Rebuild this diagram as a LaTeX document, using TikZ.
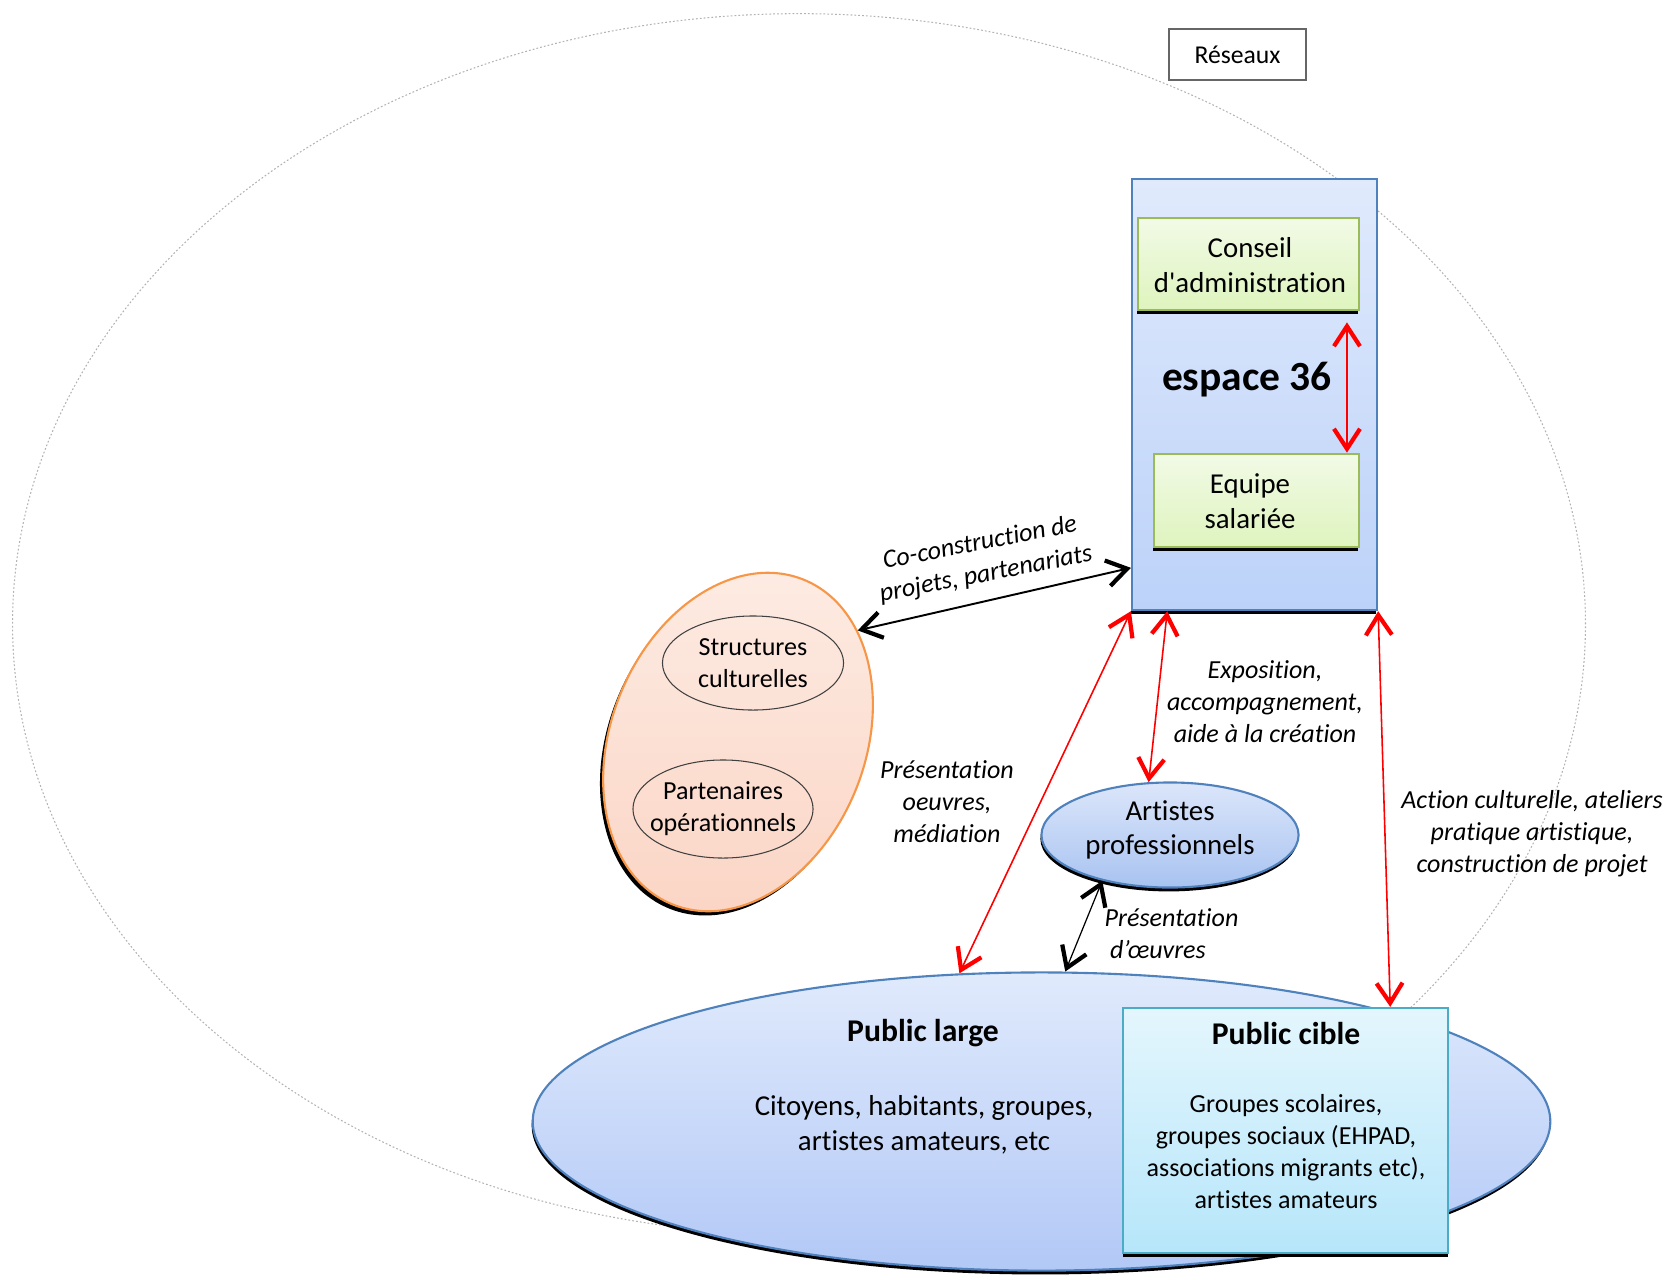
\documentclass[tikz,border=0pt]{standalone}
\usepackage{fontspec}
\setmainfont{Carlito}[Ligatures={TeXOff,CommonOff}]
\usetikzlibrary{arrows.meta, positioning, calc, shapes.geometric, shadows}
\definecolor{bordbleu}{RGB}{79,129,189}
\definecolor{bleuhaut}{RGB}{224,234,252}
\definecolor{bleubas}{RGB}{188,210,249}
\definecolor{publicbas}{RGB}{178,200,246}
\definecolor{artistehaut}{RGB}{220,230,250}
\definecolor{artistebas}{RGB}{168,195,241}
\definecolor{bordvert}{RGB}{155,187,89}
\definecolor{verthaut}{RGB}{242,250,230}
\definecolor{vertbas}{RGB}{222,244,190}
\definecolor{bordorange}{RGB}{247,150,70}
\definecolor{orangehaut}{RGB}{253,236,228}
\definecolor{orangebas}{RGB}{251,214,198}
\definecolor{bordcyan}{RGB}{75,172,198}
\definecolor{cyanhaut}{RGB}{228,246,253}
\definecolor{cyanbas}{RGB}{182,230,250}

\begin{document}
\begin{tikzpicture}[
    x=0.01cm, y=-0.01cm,
    >={Straight Barb[length=2mm, width=2.6mm, line width=1.2pt]},
    ombre/.style={drop shadow={shadow xshift=-0.3pt, shadow yshift=-1.1pt, fill=black, opacity=1}},
    reseau/.style={ellipse, draw=gray!60, line width=0.3pt, dash pattern=on 0.5pt off 0.6pt},
    etiquette/.style={draw=black!60, fill=white, line width=0.45pt,
        font=\fontsize{7.3}{8.8}\selectfont},
    espacebox/.style={draw=bordbleu, line width=0.6pt,
        top color=bleuhaut, bottom color=bleubas, ombre},
    vertbox/.style={draw=bordvert, line width=0.75pt,
        top color=verthaut, bottom color=vertbas, ombre},
    partbox/.style={ellipse, draw=bordorange, line width=0.6pt,
        top color=orangehaut, bottom color=orangebas,
        drop shadow={shadow xshift=-0.9pt, shadow yshift=-1.2pt, fill=black, opacity=1}},
    interieur/.style={ellipse, draw=black!75, line width=0.3pt},
    artistebox/.style={ellipse, draw=bordbleu, line width=0.6pt,
        top color=artistehaut, bottom color=artistebas, ombre},
    publicbox/.style={ellipse, draw=bordbleu, line width=0.6pt,
        top color=bleuhaut, bottom color=publicbas, ombre},
    ciblebox/.style={draw=bordcyan, line width=0.6pt,
        top color=cyanhaut, bottom color=cyanbas,
        drop shadow={shadow xshift=0pt, shadow yshift=-1.2pt, fill=black, opacity=1}},
    texte/.style={align=center, inner sep=0pt, font=\fontsize{8.2}{9.8}\selectfont},
    petit/.style={align=center, inner sep=0pt, font=\fontsize{7.4}{9.1}\selectfont},
    gras/.style={inner sep=0pt, font=\fontsize{9}{11}\selectfont\bfseries},
    italique/.style={align=center, inner sep=0pt, font=\fontsize{7.4}{9.1}\selectfont\itshape},
    flecherouge/.style={<->, draw=red, line width=0.45pt},
    flechenoire/.style={<->, draw=black, line width=0.55pt},
    flechefine/.style={<->, draw=black, line width=0.35pt},
  ]
  \useasboundingbox (0,0) rectangle (1671,1279);

  % Grande ellipse des réseaux (pointillés)
  \node[reseau, minimum width=15.72cm, minimum height=12.2cm] (reseaux) at (799,624) {};
  \node[etiquette, minimum width=1.37cm, minimum height=0.51cm] (reseauxlabel) at (1237.5,54.5) {Réseaux};

  % Bloc espace 36
  \node[espacebox, minimum width=2.45cm, minimum height=4.31cm] (espace) at (1254.5,394.5) {};
  \node[font=\fontsize{11.8}{14}\selectfont\bfseries, inner sep=0pt] (titre) at (1247,380) {espace 36};
  \node[vertbox, minimum width=2.21cm, minimum height=0.92cm] (conseil) at (1248.5,264) {};
  \node[texte] (conseiltexte) at (1250,265) {Conseil\\d'administration};
  \node[vertbox, minimum width=2.05cm, minimum height=0.93cm] (equipe) at (1256.5,500.5) {};
  \node[texte] (equipetexte) at (1250,501) {Equipe\\salariée};

  % Partenaires (ellipse orange)
  \node[partbox, rotate=-22, minimum width=2.54cm, minimum height=3.5cm] (partenaires) at (738,742) {};
  \node[interieur, minimum width=1.81cm, minimum height=0.94cm] (structures) at (753,663) {};
  \node[petit] (structurestexte) at (structures) {Structures\\culturelles};
  \node[interieur, minimum width=1.80cm, minimum height=0.98cm] (operationnels) at (723,809) {};
  \node[petit] (operationnelstexte) at (operationnels) {Partenaires\\opérationnels};

  % Artistes professionnels
  \node[artistebox, minimum width=2.57cm, minimum height=1.05cm] (artistes) at (1170,835) {};
  \node[texte] (artistestexte) at (1170,830) {Artistes\\professionnels};

  % Publics
  \node[publicbox, minimum width=10.17cm, minimum height=2.98cm] (public) at (1041.5,1121.5) {};
  \node[ciblebox, minimum width=3.25cm, minimum height=2.45cm] (cible) at (1285.5,1130.5) {};
  \node[gras] (titrelarge) at (923,1033) {Public large};
  \node[texte] (citoyens) at (924,1125) {Citoyens, habitants, groupes,\\artistes amateurs, etc};
  \node[gras] (titrecible) at (1286,1033) {Public cible};
  \node[petit] (groupes) at (1286,1152) {Groupes scolaires,\\groupes sociaux (EHPAD,\\associations migrants etc),\\artistes amateurs};

  % Flèches rouges
  \coordinate (ca) at ($(conseil.south west)!0.94!(conseil.south east)+(0,11)$);
  \draw[flecherouge] (ca) -- (ca |- equipe.north);
  \draw[flecherouge] (espace.south west) -- (public.119);
  \draw[flecherouge] ($(espace.south west)!0.147!(espace.south east)$) -- (artistes.112);
  \draw[flecherouge] (espace.south east) -- ($(cible.north west)!0.82!(cible.north east)$);

  % Flèches noires
  \draw[flechenoire] (partenaires.65) -- ($(espace.south west)!0.1!(espace.north west)$);
  \draw[flechefine] (artistes.214) -- (public.81);

  % Étiquettes des flèches
  \node[italique, rotate=11] (lblcoconstruction) at (983,559) {Co-construction de\\projets, partenariats};
  \node[italique] (lblmediation) at (947,802) {Présentation\\oeuvres,\\médiation};
  \node[italique] (lblexposition) at (1265,702) {Exposition,\\accompagnement,\\aide à la création};
  \node[italique] (lblaction) at (1532,834) {Action culturelle, ateliers\\pratique artistique,\\construction de projet};
  \node[italique, align=left, anchor=west] (lbloeuvres) at (1104,934) {Présentation\\\hspace{1.5pt}d’œuvres};

\end{tikzpicture}
\end{document}
